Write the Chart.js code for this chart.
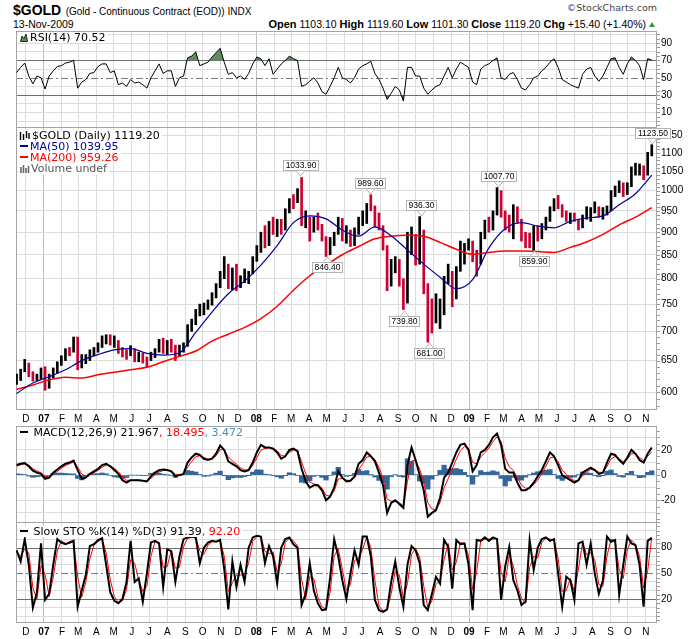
<!DOCTYPE html>
<html>
<head>
<meta charset="utf-8">
<title>$GOLD</title>
<script src="https://cdn.jsdelivr.net/npm/chart.js@4.4.1/dist/chart.umd.min.js"></script>
<style>
  body { margin: 0; background: #fff; }
  #wrap { position: relative; width: 700px; height: 639px; overflow: hidden; font-family: "Liberation Sans", Arial, sans-serif; color: #000; }
  canvas { position: absolute; left: 0; }
  .txt { position: absolute; white-space: nowrap; }
  .lg { position: absolute; white-space: nowrap; font: 11px "DejaVu Sans", sans-serif; line-height: 11px; }
  .lg div, .lg span.box { background: #fff; display: inline-block; padding-right: 2px; }
  .ln { display: inline-block; width: 8px; height: 2px; vertical-align: 3px; margin: 0 2px 0 2px; }
  .up { display: inline-block; width: 0; height: 0; border-left: 3.5px solid transparent; border-right: 3.5px solid transparent; border-bottom: 5px solid #2e9a3a; margin-left: 3px; vertical-align: 1px; }
</style>
</head>
<body>
<div id="wrap">
  <div class="txt" style="left:13px;top:0;line-height:20px">
    <b style="font:bold 14px 'Liberation Sans Narrow','Liberation Sans',sans-serif">$GOLD</b>
    <span style="font:10px 'Liberation Sans Narrow','Liberation Sans',sans-serif">(Gold - Continuous Contract (EOD)) INDX</span>
  </div>
  <div class="txt" style="right:43px;top:2px;line-height:20px;font:9.5px 'DejaVu Sans',sans-serif;color:#444">&copy;StockCharts.com</div>
  <div class="txt" style="left:13px;top:17px;line-height:14px;font-size:10.5px">13-Nov-2009</div>
  <div class="txt" style="right:45px;top:17px;line-height:14px;font-size:10.5px">
    <b style="font-size:11px">Open</b> 1103.10 <b style="font-size:11px">High</b> 1119.60 <b style="font-size:11px">Low</b> 1101.30 <b style="font-size:11px">Close</b> 1119.20 <b style="font-size:11px">Chg</b> +15.40 (+1.40%)<span class="up"></span>
  </div>

  <canvas id="rsiChart" width="700" height="97" style="top:31px"></canvas>
  <canvas id="priceChart" width="700" height="299" style="top:127px"></canvas>
  <canvas id="macdChart" width="700" height="97" style="top:426px"></canvas>
  <canvas id="stoChart" width="700" height="117" style="top:522px"></canvas>

  <div class="lg" style="left:18px;top:32px">
    <span class="box"><svg width="8" height="9" style="margin:0 2px 0 2px;vertical-align:-1px"><path d="M0.5 8.5L2 3L4 5.5L6 1L7.5 8.5Z" fill="#5e8e5e" stroke="#000" stroke-width="0.8"/></svg>RSI(14) 70.52</span>
  </div>
  <div class="lg" style="left:18px;top:130px">
    <div><svg width="11" height="9" style="margin:0 2px 0 1px;vertical-align:-1px"><path d="M1.5 1v8M4.5 3v6M7.5 0v7M10 2v6" stroke="#000" stroke-width="1.4"/></svg>$GOLD (Daily) 1119.20</div><br>
    <div style="color:#000099"><span class="ln" style="background:#000099"></span>MA(50) 1039.95</div><br>
    <div style="color:#ff0000"><span class="ln" style="background:#ff0000"></span>MA(200) 959.26</div><br>
    <div style="color:#555"><svg width="10" height="9" style="margin:0 1px 0 2px;vertical-align:-1px"><path d="M1 3v6M3.5 1v8M6 4v5M8.5 2v7" stroke="#666" stroke-width="1.6"/></svg>Volume undef</div>
  </div>
  <div class="lg" style="left:18px;top:427px">
    <span class="box"><span class="ln" style="background:#000"></span> MACD(12,26,9) 21.967<span style="color:#ff0000">, 18.495</span><span style="color:#4a8bbf">, 3.472</span></span>
  </div>
  <div class="lg" style="left:18px;top:526px">
    <span class="box"><span class="ln" style="background:#000"></span> Slow STO %K(14) %D(3) 91.39<span style="color:#ff0000">, 92.20</span></span>
  </div>
</div>

<script>
// weekly samples, one per trading week, centred on the Wednesday of each week
const DAY = 86400000;
const firstWeek = Date.UTC(2006, 10, 15);
const axisStart = Date.UTC(2006, 10, 14);
const axisEnd = Date.UTC(2009, 10, 20);
const maEvery = 4; // moving averages are read every 4th week

const monthLetters = ['J', 'F', 'M', 'A', 'M', 'J', 'J', 'A', 'S', 'O', 'N', 'D'];
const priceTicks = [600, 650, 700, 750, 800, 850, 900, 950, 1000, 1050, 1100, 1150];
const rsiGrid = [0, 10, 20, 30, 40, 50, 60, 70, 80, 90, 100];
const rsiLabels = [10, 30, 50, 70, 90];
const macdGrid = [-30, -20, -10, 0, 10, 20, 30];
const macdLabels = [-20, 0, 20];
const stoGrid = [0, 10, 20, 30, 40, 50, 60, 70, 80, 90, 100];
const stoLabels = [20, 50, 80];

const priceLow = [
  612,618,632,624,617,618,620,603,606,622,
  630,642,650,658,664,635,638,645,650,658,
  664,672,678,676,672,662,656,652,658,648,
  648,646,640,650,655,664,662,660,664,650,
  658,664,674,700,712,728,730,740,748,762,
  782,800,780,778,776,782,792,790,810,836,
  855,865,870,895,890,895,905,945,955,970,
  915,910,880,900,905,880,846.4,850,870,895,
  880,875,868,870,895,915,920,950,912,905,
  860,776,785,812,785,739.8,752,850,828,830,
  770,681,697,715,705,730,790,745,760,815,
  830,860,835,805,830,885,900,905,940,935,
  905,900,885,920,880,865,865,859.9,880,885,
  905,925,950,955,935,925,920,925,905,910,
  930,925,945,935,930,940,950,985,995,985,
  990,1010,1040,1040,1028,1040,1092
];
const priceHigh = [
  628,636,652,646,632,628,638,640,628,638,
  648,658,670,672,690,690,660,660,668,672,
  680,692,694,694,692,684,672,668,675,670,
  664,662,656,664,670,686,688,684,686,676,
  676,680,712,722,740,750,752,758,772,790,
  815,846,830,822,830,806,820,815,846,870,
  900,915,925,935,930,930,955,980,990,1005,
  1033.9,950,935,935,945,918,890,888,900,935,
  932,915,905,910,935,950,968,989.6,962,945,
  915,870,840,846,840,800,900,912,895,936.3,
  905,790,760,770,760,805,830,815,825,880,
  875,885,880,860,900,928,935,950,1007.7,1000,
  950,940,965,960,930,900,898,915,915,920,
  935,960,980,988,965,950,945,945,930,940,
  960,958,972,960,958,962,1000,1012,1025,1020,
  1020,1062,1072,1070,1065,1102,1123.5
];
const priceClose = [
  622,634,648,628,622,622,635,608,626,632,
  646,655,666,665,686,646,653,654,662,664,
  676,688,690,681,684,668,661,657,668,656,
  657,652,651,658,667,683,667,680,679,660,
  670,676,704,714,734,745,746,752,768,788,
  808,832,790,818,784,798,800,812,840,862,
  896,882,912,910,922,907,948,975,972,1001,
  920,934,903,926,915,886,852,886,896,930,
  888,905,873,904,929,933,962,958,928,913,
  864,786,832,834,800,762,866,885,833,902,
  783,730,717,735,746,800,815,752,822,838,
  872,878,853,837,897,925,914,945,1002,942,
  940,930,955,924,899,883,870,913,885,915,
  930,959,979,962,938,935,940,932,912,937,
  953,954,957,946,953,956,996,1006,1013,991,
  1004,1050,1052,1056,1045,1096,1119.2
];
const ma50 = [
  598,614,624,635,650,660,668,670,662,659,
  663,698,735,770,795,828,870,922,938,931,
  905,891,912,892,860,830,803,780,798,865,
  908,922,914,910,925,933,938,965,992,1040
];
const ma200 = [
  604,611,619,623,622,627,631,635,639,648,
  657,666,683,695,707,723,746,777,806,828,
  850,868,885,891,893,891,877,862,851,855,
  858,858,857,855,866,878,895,917,935,958
];
const rsi = [
  56,62,67,52,43,52,50,37,52,58,
  63,64,67,68,70,38,45,48,55,56,
  63,66,66,56,58,42,44,40,48,44,
  45,42,38,50,58,66,55,58,58,40,
  50,52,73,75,80,64,66,68,74,79,
  84,68,54,56,50,52,48,55,66,74,
  72,64,72,54,60,66,70,75,72,70,
  40,42,46,50,44,34,31,40,50,62,
  50,48,44,50,60,64,66,69,55,48,
  38,25,32,40,36,23,62,62,52,52,
  38,31,36,40,42,52,62,50,60,68,
  65,62,45,42,60,64,66,70,73,50,
  48,54,56,48,38,36,42,50,52,58,
  62,68,72,62,48,45,42,40,38,54,
  60,62,52,46,52,62,72,73,62,54,
  66,74,70,64,48,72,70.52
];
const macd = [
  8,9,9.5,7,3.5,2,1,-3,-2,2,
  4.5,7,9,10,11.5,4,-3,-2,1,3,
  5,8,9,7,4,1,-4,-6,-4,-4,
  -4,-4.5,-5,-1,2,4,4.5,4,3,-1,
  0,1,10,14,17,16,13,12,13,17,
  23.5,20,11,9,7,4,3,4,10,18,
  24,22,22,21,18,13,15,20,21,19,
  5,-5,-10,-8,-8,-12,-20,-17,-10,3,
  -2,-5,-4.5,-1,9,12,18,15,11,2,
  -8,-30,-22,-20,-23,-26,8,22,12,0,
  -12,-33,-30,-28,-18,-2,2,10,18,24,
  25,20,3,8,18,20,24,30,33,24,
  5,2,2,-6,-12,-12,-10,-6,-1,4,
  11,18,15,8,0,-2,-4,-6,-4,2,
  4,6,4,1,2,10,17,16,12,9,
  14,20,17,12,10,17,21.967
];
const macdSignal = [
  7,8.2,9,7.8,5.2,3.3,1.9,-1,-1.6,0.6,
  2.9,5.4,7.6,9,10.5,6.6,0.8,-0.9,0.2,1.9,
  3.8,6.3,7.9,7.4,5.4,2.8,-1.3,-4.1,-4,-4,
  -4,-4.3,-4.7,-2.5,0.2,2.5,3.7,3.9,3.4,0.8,
  0.3,0.7,6.3,10.9,14.6,15.4,14,12.8,12.9,15.4,
  20.3,20.1,14.6,11.2,8.7,5.9,4.2,4.1,7.6,13.8,
  19.9,21.2,21.7,21.3,19.3,15.5,15.2,18.1,19.8,19.3,
  10.7,1.3,-5.5,-7,-7.6,-10.2,-16.1,-16.6,-12.6,-3.2,
  -2.5,-4,-4.3,-2.3,4.5,9,14.4,14.8,12.5,6.2,
  -2.3,-18.9,-20.8,-20.3,-21.9,-24.4,-5,11.2,11.7,4.7,
  -5.3,-21.9,-26.8,-27.5,-21.8,-9.9,-2.8,4.9,12.8,19.5,
  22.8,21.1,10.2,8.9,14.4,17.8,21.5,26.6,30.4,26.6,
  13.6,6.6,3.8,-2.1,-8,-10.4,-10.2,-7.7,-3.7,0.9,
  7,13.6,14.4,10.6,4.2,0.5,-2.2,-4.5,-4.2,-0.5,
  2.2,4.5,4.2,2.3,2.1,6.8,12.9,14.8,13.1,10.6,
  12.6,17,17,14,11.6,14.8,18.495
];
const macdHist = [
  1,0.8,0.5,-0.8,-1.7,-1.3,-0.9,-2,-0.4,1.4,
  1.6,1.6,1.4,1,1,-2.6,-3.8,-1.1,0.8,1.1,
  1.2,1.7,1.1,-0.4,-1.4,-1.8,-2.7,-1.9,0,0,
  0,-0.2,-0.3,1.5,1.8,1.5,0.8,0.1,-0.4,-1.8,
  -0.3,0.3,3.7,3.1,2.4,0.6,-1,-0.8,0.1,1.6,
  3.2,-0.1,-3.6,-2.2,-1.7,-1.9,-1.2,-0.1,2.4,4.2,
  4.1,0.8,0.3,-0.3,-1.3,-2.5,-0.2,1.9,1.2,-0.3,
  -5.7,-6.3,-4.5,-1,-0.4,-1.8,-3.9,-0.4,2.6,6.2,
  0.5,-1,-0.2,1.3,4.5,3,3.6,0.2,-1.5,-4.2,
  -5.7,-11.1,-1.2,0.3,-1.1,-1.6,13,10.8,0.3,-4.7,
  -6.7,-11.1,-3.2,-0.5,3.8,7.9,4.8,5.1,5.2,4.5,
  2.2,-1.1,-7.2,-0.9,3.6,2.2,2.5,3.4,2.6,-2.6,
  -8.6,-4.6,-1.8,-3.9,-4,-1.6,0.2,1.7,2.7,3.1,
  4,4.4,0.6,-2.6,-4.2,-2.5,-1.8,-1.5,0.2,2.5,
  1.8,1.5,-0.2,-1.3,-0.1,3.2,4.1,1.2,-1.1,-1.6,
  1.4,3,0,-2,-1.6,2.2,3.472
];
const stoK = [
  77,64,90,60,10,28,85,19,26,60,
  90,86,84,86,88,11,30,48,82,84,
  89,91,60,28,18,15,20,40,88,40,
  44,17,50,86,88,85,34,78,76,40,
  70,90,92,93,92,62,80,86,88,87,
  89,55,8,64,34,60,40,80,92,94,
  93,62,82,70,38,80,90,92,84,80,
  13,26,62,30,15,7,8,45,90,70,
  42,20,50,77,60,93,93,70,19,7,
  5,8,40,64,34,11,60,82,77,62,
  13,7,26,46,38,89,81,32,89,84,
  85,60,7,89,88,92,88,92,90,19,
  58,81,42,30,13,17,89,54,80,90,
  92,88,90,50,11,46,42,19,85,87,
  60,85,50,26,42,93,87,89,25,60,
  93,85,83,60,11,88,91.39
];
const stoD = [
  75,70,78,74,33,20,59,49,23,45,
  76,88,85,85,87,46,22,40,67,83,
  87,90,74,43,23,16,18,31,66,62,
  42,29,35,70,87,86,57,58,77,56,
  57,81,91,92,92,76,72,83,87,87,
  88,70,29,39,48,48,49,62,87,93,
  93,76,73,75,52,61,86,91,88,82,
  43,20,46,44,22,11,8,28,70,79,
  55,30,37,65,68,78,93,80,42,12,
  6,7,26,53,48,21,38,72,79,69,
  35,10,18,37,42,66,85,54,63,86,
  85,71,31,52,88,90,90,90,91,51,
  40,71,59,36,21,15,57,70,68,86,
  91,90,89,68,29,30,44,29,55,86,
  72,74,66,37,35,70,90,88,54,44,
  78,89,84,70,33,53,92.2
];
// labelled highs and lows on the price panel
const peaks = [
  { date: '2008-03-17', value: 1033.9, side: 'above' },
  { date: '2008-05-01', value: 846.4, side: 'below' },
  { date: '2008-07-15', value: 989.6, side: 'above' },
  { date: '2008-09-11', value: 739.8, side: 'below' },
  { date: '2008-10-10', value: 936.3, side: 'above' },
  { date: '2008-10-24', value: 681.0, side: 'below' },
  { date: '2009-02-20', value: 1007.7, side: 'above' },
  { date: '2009-04-22', value: 859.9, side: 'below' },
  { date: '2009-11-12', value: 1123.5, side: 'above' }
];

const weekDate = i => firstWeek + i * 7 * DAY;
const weekly = arr => arr.map((v, i) => ({ x: weekDate(i), y: v }));
const everyFourth = arr => arr.map((v, j) => ({ x: weekDate(j * maEvery), y: v }));

const monthTicks = [];
for (let y = 2006; y <= 2009; y++) {
  for (let m = 0; m < 12; m++) {
    const t = Date.UTC(y, m, 1);
    if (t > axisStart && t < axisEnd) monthTicks.push(t);
  }
}
const isJan = v => new Date(v).getUTCMonth() === 0;

Chart.defaults.font.family = '"Liberation Sans", Arial, sans-serif';
Chart.defaults.color = '#000';

function noPad(s) {
  s.paddingTop = 0; s.paddingBottom = 0; s.paddingLeft = 0; s.paddingRight = 0;
}

function timeAxis(showLabels) {
  return {
    type: 'linear',
    min: axisStart,
    max: axisEnd,
    offset: false,
    afterBuildTicks: s => { s.ticks = monthTicks.map(v => ({ value: v })); },
    afterFit: s => { s.height = showLabels ? 16 : 0; noPad(s); },
    grid: {
      drawTicks: false,
      offset: false,
      color: c => (c.tick && isJan(c.tick.value)) ? '#bdbdbd' : '#dcdcdc'
    },
    border: { display: false },
    ticks: {
      display: showLabels,
      autoSkip: false,
      maxRotation: 0,
      padding: 3,
      color: '#000',
      font: c => ({ family: '"Liberation Sans", Arial, sans-serif', size: 10,
                    weight: (c.tick && isJan(c.tick.value)) ? 'bold' : 'normal' }),
      callback: v => {
        const d = new Date(v);
        return d.getUTCMonth() === 0 ? String(d.getUTCFullYear()).slice(2) : monthLetters[d.getUTCMonth()];
      }
    }
  };
}

function valueAxis(o) {
  const hidden = o.hidden || [];
  return {
    type: o.type || 'linear',
    position: 'right',
    min: o.min,
    max: o.max,
    afterBuildTicks: s => { s.ticks = o.grid.map(v => ({ value: v })); },
    afterFit: s => { s.width = 43; noPad(s); },
    grid: {
      drawTicks: false,
      color: c => (c.tick && hidden.includes(c.tick.value)) ? 'rgba(0,0,0,0)' : '#dcdcdc'
    },
    border: { display: false },
    ticks: {
      autoSkip: false,
      padding: 4,
      color: '#000',
      font: { size: 10 },
      callback: v => o.labels.includes(v) ? String(v) : ''
    }
  };
}

// frame, reference lines and the small ticks on the right edge
const panelFrame = {
  id: 'panelFrame',
  beforeDatasetsDraw(chart, args, opts) {
    const { ctx, chartArea: a, scales: { y } } = chart;
    ctx.save();
    ctx.lineWidth = 1;
    (opts.solid || []).forEach(v => {
      const py = Math.round(y.getPixelForValue(v)) + 0.5;
      ctx.strokeStyle = '#6e6e6e';
      ctx.setLineDash([]);
      ctx.beginPath(); ctx.moveTo(a.left, py); ctx.lineTo(a.right, py); ctx.stroke();
    });
    (opts.dashDot || []).forEach(v => {
      const py = Math.round(y.getPixelForValue(v)) + 0.5;
      ctx.strokeStyle = '#7a7a7a';
      ctx.setLineDash([7, 3, 2, 3]);
      ctx.beginPath(); ctx.moveTo(a.left, py); ctx.lineTo(a.right, py); ctx.stroke();
    });
    ctx.setLineDash([]);
    if (opts.minorStep) {
      const step = opts.minorStep;
      ctx.strokeStyle = '#9a9a9a';
      ctx.beginPath();
      for (let v = Math.ceil(y.min / step) * step; v <= y.max; v += step) {
        const py = Math.round(y.getPixelForValue(v)) + 0.5;
        ctx.moveTo(a.right, py); ctx.lineTo(a.right + 3, py);
      }
      ctx.stroke();
    }
    ctx.strokeStyle = '#a4a4a4';
    ctx.strokeRect(a.left + 0.5, a.top + 0.5, a.right - a.left - 1, a.bottom - a.top - 1);
    ctx.restore();
  }
};

const peakLabels = {
  id: 'peakLabels',
  afterDraw(chart) {
    const { ctx, scales: { x, y } } = chart;
    ctx.save();
    ctx.font = '8.5px "Liberation Sans", Arial, sans-serif';
    ctx.textAlign = 'center';
    ctx.textBaseline = 'middle';
    ctx.lineWidth = 1;
    peaks.forEach(p => {
      const px = Math.round(x.getPixelForValue(Date.parse(p.date))) + 0.5;
      const py = Math.round(y.getPixelForValue(p.value));
      const text = p.value.toFixed(2);
      const w = Math.ceil(ctx.measureText(text).width) + 5;
      const h = 11;
      const above = p.side === 'above';
      const top = above ? py - 6 - h : py + 6;
      const edge = above ? top + h : top;
      const left = Math.round(px - w / 2);
      ctx.fillStyle = '#fff';
      ctx.strokeStyle = '#b4b4b4';
      ctx.beginPath();
      ctx.moveTo(px - 4, edge);
      ctx.lineTo(px, above ? py - 1 : py + 1);
      ctx.lineTo(px + 4, edge);
      ctx.fill();
      ctx.stroke();
      ctx.fillRect(left, top, w, h);
      ctx.strokeRect(left + 0.5, top + 0.5, w - 1, h - 1);
      ctx.fillStyle = '#000';
      ctx.fillText(text, left + w / 2, top + h / 2 + 0.5);
    });
    ctx.restore();
  }
};

const baseOptions = {
  responsive: false,
  animation: false,
  devicePixelRatio: 1,
  events: [],
  layout: { padding: { left: 16, right: 0, top: 0, bottom: 0 } }
};
const quiet = { legend: { display: false }, tooltip: { enabled: false } };

// RSI panel
new Chart(document.getElementById('rsiChart'), {
  type: 'line',
  data: {
    datasets: [{
      data: weekly(rsi),
      borderColor: '#000',
      borderWidth: 1,
      pointRadius: 0,
      fill: { target: { value: 70 }, above: '#5e8e5e', below: 'rgba(0,0,0,0)' },
      order: 0
    }, {
      data: weekly(rsi),
      borderColor: 'rgba(0,0,0,0)',
      borderWidth: 0,
      pointRadius: 0,
      fill: { target: { value: 30 }, above: 'rgba(0,0,0,0)', below: '#7d4f68' },
      order: 1
    }]
  },
  options: Object.assign({}, baseOptions, {
    plugins: Object.assign({}, quiet, { panelFrame: { solid: [30, 70], dashDot: [50], minorStep: 5 } }),
    scales: {
      x: timeAxis(false),
      y: valueAxis({ min: -8, max: 104, grid: rsiGrid, labels: rsiLabels, hidden: [30, 50, 70] })
    }
  }),
  plugins: [panelFrame]
});

// price panel
const barColors = priceClose.map((c, i) => (i > 0 && c < priceClose[i - 1]) ? '#cc0033' : '#000000');
new Chart(document.getElementById('priceChart'), {
  type: 'bar',
  data: {
    datasets: [{
      type: 'line',
      label: 'MA(50)',
      data: everyFourth(ma50),
      borderColor: '#000099',
      borderWidth: 1.2,
      pointRadius: 0,
      cubicInterpolationMode: 'monotone',
      order: 0
    }, {
      type: 'line',
      label: 'MA(200)',
      data: everyFourth(ma200),
      borderColor: '#ff0000',
      borderWidth: 1.5,
      pointRadius: 0,
      cubicInterpolationMode: 'monotone',
      order: 1
    }, {
      type: 'bar',
      label: '$GOLD',
      data: priceLow.map((lo, i) => ({ x: weekDate(i), y: [lo, priceHigh[i]] })),
      backgroundColor: barColors,
      barThickness: 2,
      order: 2
    }]
  },
  options: Object.assign({}, baseOptions, {
    plugins: Object.assign({}, quiet, { panelFrame: { minorStep: 10 } }),
    scales: {
      x: timeAxis(true),
      y: valueAxis({ type: 'logarithmic', min: 573.5, max: 1175, grid: priceTicks, labels: priceTicks })
    }
  }),
  plugins: [panelFrame, peakLabels]
});

// MACD panel
new Chart(document.getElementById('macdChart'), {
  type: 'bar',
  data: {
    datasets: [{
      type: 'line',
      data: weekly(macd),
      borderColor: '#000',
      borderWidth: 2,
      pointRadius: 0,
      order: 0
    }, {
      type: 'line',
      data: weekly(macdSignal),
      borderColor: '#ff0000',
      borderWidth: 1,
      pointRadius: 0,
      order: 1
    }, {
      type: 'bar',
      data: weekly(macdHist),
      backgroundColor: '#336699',
      barThickness: 4.6,
      order: 2
    }]
  },
  options: Object.assign({}, baseOptions, {
    plugins: Object.assign({}, quiet, { panelFrame: { minorStep: 5 } }),
    scales: {
      x: timeAxis(false),
      y: valueAxis({ min: -38, max: 39, grid: macdGrid, labels: macdLabels })
    }
  }),
  plugins: [panelFrame]
});

// slow stochastics panel
new Chart(document.getElementById('stoChart'), {
  type: 'line',
  data: {
    datasets: [{
      data: weekly(stoK),
      borderColor: '#000',
      borderWidth: 2,
      pointRadius: 0,
      order: 0
    }, {
      data: weekly(stoD),
      borderColor: '#ff0000',
      borderWidth: 1,
      pointRadius: 0,
      order: 1
    }]
  },
  options: Object.assign({}, baseOptions, {
    plugins: Object.assign({}, quiet, { panelFrame: { solid: [20, 80], dashDot: [50], minorStep: 5 } }),
    scales: {
      x: timeAxis(true),
      y: valueAxis({ min: -8, max: 110, grid: stoGrid, labels: stoLabels, hidden: [20, 50, 80] })
    }
  }),
  plugins: [panelFrame]
});
</script>
</body>
</html>
